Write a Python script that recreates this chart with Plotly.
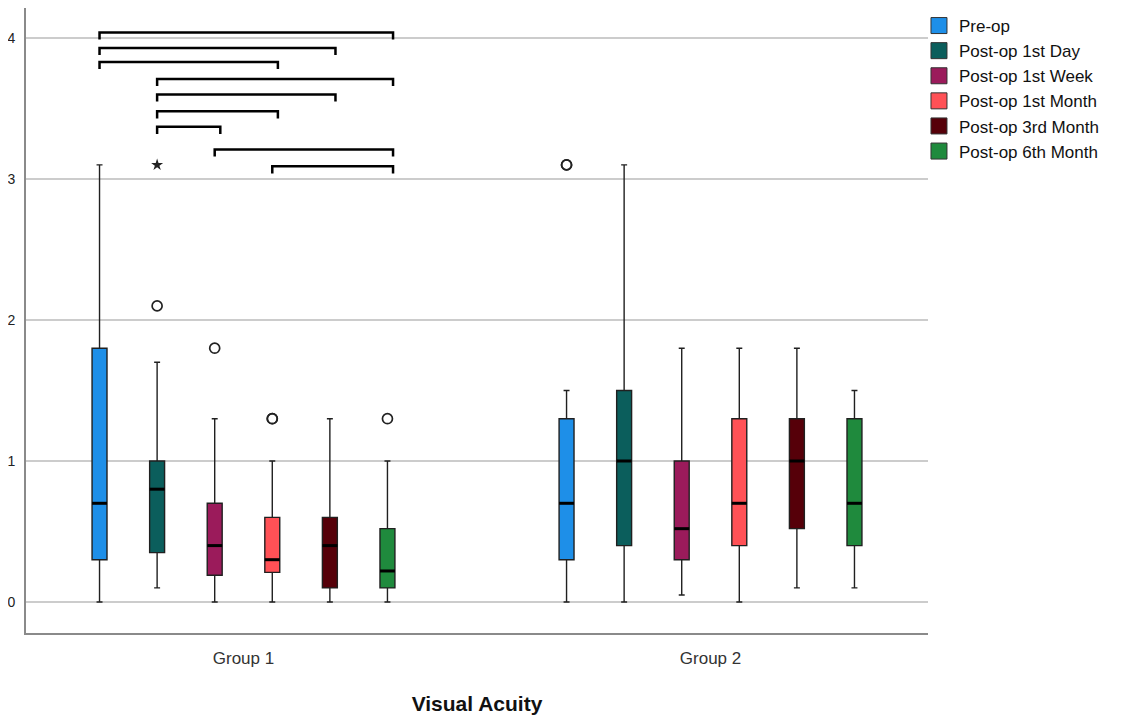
import plotly.graph_objects as go

# ---------------- data ----------------
groups = ["Group 1", "Group 2"]
series = ["Pre-op", "Post-op 1st Day", "Post-op 1st Week",
          "Post-op 1st Month", "Post-op 3rd Month", "Post-op 6th Month"]
colors = ["#1E8FE8", "#0B5E5C", "#9B1B5B", "#FF5156", "#560009", "#1F8A3D"]

lower_g1 = [0.00, 0.10, 0.00, 0.00, 0.00, 0.00]
q1_g1 = [0.30, 0.35, 0.19, 0.21, 0.10, 0.10]
median_g1 = [0.70, 0.80, 0.40, 0.30, 0.40, 0.22]
q3_g1 = [1.80, 1.00, 0.70, 0.60, 0.60, 0.52]
upper_g1 = [3.10, 1.70, 1.30, 1.00, 1.30, 1.00]

lower_g2 = [0.00, 0.00, 0.05, 0.00, 0.10, 0.10]
q1_g2 = [0.30, 0.40, 0.30, 0.40, 0.52, 0.40]
median_g2 = [0.70, 1.00, 0.52, 0.70, 1.00, 0.70]
q3_g2 = [1.30, 1.50, 1.00, 1.30, 1.30, 1.30]
upper_g2 = [1.50, 3.10, 1.80, 1.80, 1.80, 1.50]

# outliers (circles) and extremes (stars)
outlier_group = [0, 0, 0, 0, 0, 1, 1]
outlier_series = [1, 2, 3, 3, 5, 0, 0]
outlier_value = [2.10, 1.80, 1.30, 1.30, 1.30, 3.10, 3.10]
extreme_group = [0]
extreme_series = [1]
extreme_value = [3.10]

# significance brackets (Group 1)
bracket_left = [0, 0, 0, 1, 1, 1, 1, 2, 3]
bracket_right = [5, 4, 3, 5, 4, 3, 2, 5, 5]
bracket_level = [4.04, 3.93, 3.83, 3.71, 3.60, 3.48, 3.37, 3.21, 3.09]

y_ticks = [0, 1, 2, 3, 4]

# ---------------- layout helpers ----------------
n = len(series)
slot = 0.1233
box_w = 0.032


def pos(g, i):
    return g + (i - (n - 1) / 2) * slot


FONT = "Liberation Sans, Arial, sans-serif"

fig = go.Figure()
shapes = []

stats = [(lower_g1, q1_g1, median_g1, q3_g1, upper_g1),
         (lower_g2, q1_g2, median_g2, q3_g2, upper_g2)]

for i, name in enumerate(series):
    xs = [pos(g, i) for g in range(len(groups))]
    fig.add_trace(go.Box(
        x=xs,
        lowerfence=[stats[g][0][i] for g in range(2)],
        q1=[stats[g][1][i] for g in range(2)],
        median=[stats[g][2][i] for g in range(2)],
        q3=[stats[g][3][i] for g in range(2)],
        upperfence=[stats[g][4][i] for g in range(2)],
        width=box_w,
        fillcolor=colors[i],
        line=dict(color="#202020", width=1.4),
        whiskerwidth=0.4,
        boxpoints=False,
        name=name,
        showlegend=False,
        hoverinfo="skip",
    ))
    # thick median lines
    for g in range(2):
        shapes.append(dict(
            type="line", xref="x", yref="y",
            x0=xs[g] - box_w / 2, x1=xs[g] + box_w / 2,
            y0=stats[g][2][i], y1=stats[g][2][i],
            line=dict(color="black", width=3),
        ))
    # legend entry
    fig.add_trace(go.Scatter(
        x=[None], y=[None], mode="markers", name=name,
        marker=dict(symbol="square", size=17, color=colors[i],
                    line=dict(color="#333333", width=1)),
    ))

# outliers
fig.add_trace(go.Scatter(
    x=[pos(g, s) for g, s in zip(outlier_group, outlier_series)],
    y=outlier_value, mode="markers", showlegend=False, hoverinfo="skip",
    marker=dict(symbol="circle-open", size=10, color="#222222",
                line=dict(width=1.7)),
))
fig.add_trace(go.Scatter(
    x=[pos(g, s) for g, s in zip(extreme_group, extreme_series)],
    y=extreme_value, mode="markers", showlegend=False, hoverinfo="skip",
    marker=dict(symbol="star", size=9, color="#222222"),
))

# brackets
tick = 0.05
for a, b, lv in zip(bracket_left, bracket_right, bracket_level):
    xa = pos(0, a)
    xb = pos(0, b) + 0.012
    fig.add_trace(go.Scatter(
        x=[xa, xa, xb, xb], y=[lv - tick, lv, lv, lv - tick],
        mode="lines", showlegend=False, hoverinfo="skip",
        line=dict(color="black", width=2.5),
    ))

fig.update_layout(
    width=1133, height=711,
    margin=dict(l=18, r=213, t=0, b=86),
    paper_bgcolor="white", plot_bgcolor="white",
    font=dict(family=FONT, color="#222222"),
    shapes=shapes,
    legend=dict(x=0.99, y=1.0, xanchor="left", yanchor="top",
                font=dict(size=17, family=FONT, color="#111111"),
                itemwidth=30, tracegroupgap=0,
                bgcolor="rgba(0,0,0,0)"),
    xaxis=dict(
        range=[-0.4657, 1.4657],
        tickvals=[0, 1], ticktext=groups,
        showgrid=False, zeroline=False, ticks="",
        showline=True, linecolor="#8a8a8a", linewidth=2,
        tickfont=dict(size=17, family=FONT, color="#333333"),
        ticklabelstandoff=9,
        title=dict(text="<b>Visual Acuity</b>", standoff=29,
                   font=dict(size=21, family=FONT, color="#111111")),
    ),
    yaxis=dict(
        range=[-0.22, 4.213],
        tickvals=y_ticks, ticktext=[str(t) for t in y_ticks],
        showgrid=True, gridcolor="#cccccc", gridwidth=1.5,
        zeroline=False, ticks="",
        showline=True, linecolor="#8a8a8a", linewidth=2,
        tickfont=dict(size=14, family=FONT, color="#222222"),
        ticklabelstandoff=6,
    ),
)

fig.write_html("out.html")
